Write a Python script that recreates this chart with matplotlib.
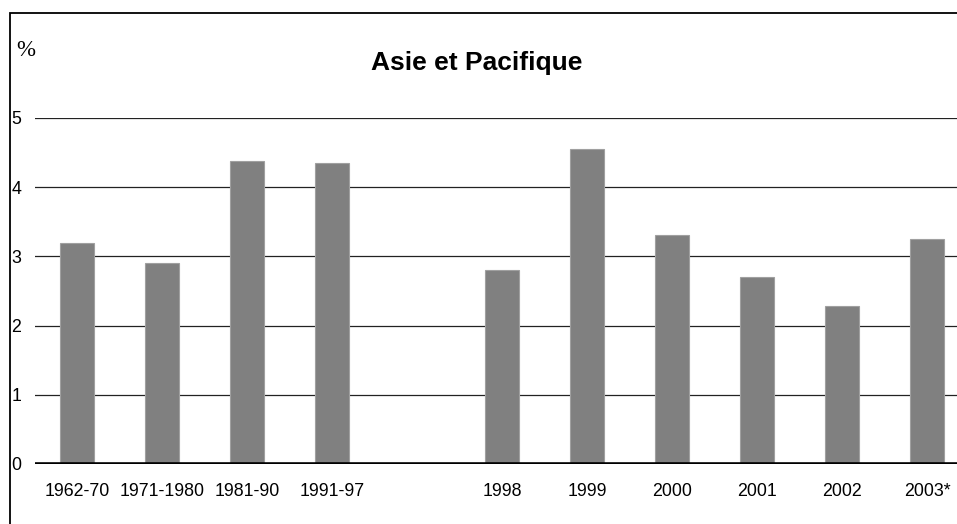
import matplotlib
matplotlib.use("Agg")
import matplotlib.pyplot as plt
from matplotlib.patches import Rectangle

# data
categories = ["1962-70", "1971-1980", "1981-90", "1991-97", "",
              "1998", "1999", "2000", "2001", "2002", "2003*"]
values = [3.2, 2.9, 4.38, 4.35, None, 2.8, 4.55, 3.31, 2.7, 2.28, 3.25]
yticks = [0, 1, 2, 3, 4, 5]

plt.rcParams['font.family'] = ['Liberation Sans', 'DejaVu Sans']

W, H = 957, 524
fig = plt.figure(figsize=(W / 100, H / 100), dpi=100)
ax = fig.add_axes([35 / W, 1 - 464 / H, (W - 35) / W, (464 - 118) / H])

pos = [i for i, v in enumerate(values) if v is not None]
vals = [v for v in values if v is not None]
ax.bar(pos, vals, width=0.41, color="#808080", edgecolor="#a0a0a0",
       linewidth=0.8, zorder=3)

ax.set_ylim(0, 5)
ax.set_xlim(-0.494, 10.353)
ax.set_yticks(yticks)
ax.yaxis.grid(True, color="#222222", linewidth=0.9, zorder=0)
ax.set_axisbelow(True)
ax.axhline(0, color="black", linewidth=2.6, zorder=4)

ax.set_xticks(range(len(categories)))
ax.set_xticklabels(categories, fontsize=12.8)
ax.tick_params(axis="x", length=0, pad=14)
ax.tick_params(axis="y", length=0, labelsize=12.8)
for lbl in ax.get_yticklabels():
    lbl.set_horizontalalignment("left")
ax.yaxis.set_tick_params(pad=17)

for s in ax.spines.values():
    s.set_visible(False)

fig.text(477 / W, 1 - 63 / H, "Asie et Pacifique", ha="center", va="center",
         fontsize=19, fontweight="bold")
fig.text(16 / W, 1 - 51 / H, "%", ha="left", va="center", fontsize=16.5,
         family=["Liberation Serif", "DejaVu Serif"])

# frame around the chart (top and left visible)
fig.patches.append(Rectangle((9.5 / W, -0.1), 1.2, 1 - 12.5 / H + 0.1,
                             transform=fig.transFigure, fill=False,
                             edgecolor="black", linewidth=1.3))

fig.savefig("out.png", dpi=100)
